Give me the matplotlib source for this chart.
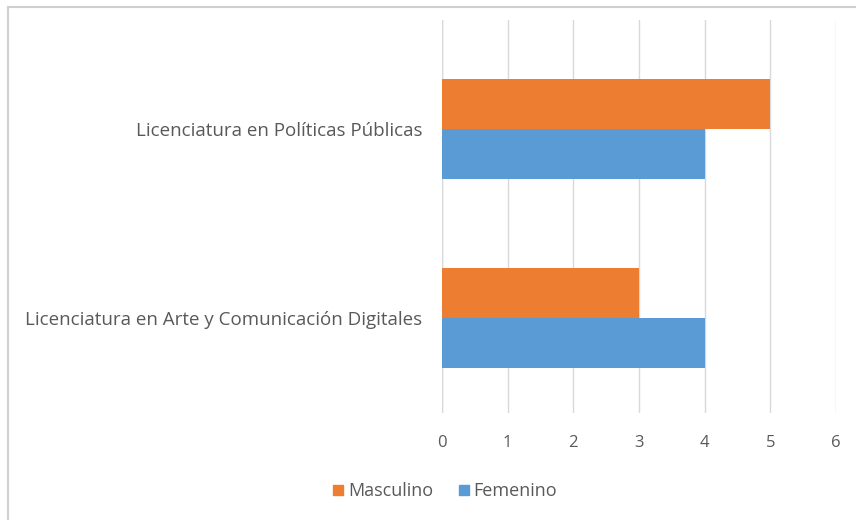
import numpy as np
import matplotlib.pyplot as plt
from matplotlib.lines import Line2D

categories = ['Licenciatura en Arte y Comunicación Digitales',
              'Licenciatura en Políticas Públicas']
masculino = [3, 5]
femenino = [4, 4]
series_names = ['Masculino', 'Femenino']
xticks = [0, 1, 2, 3, 4, 5, 6]

ORANGE = '#ED7D31'
BLUE = '#5B9BD5'
GRID = '#D9D9D9'
TEXT = '#595959'

plt.rcParams['font.family'] = ['Open Sans', 'DejaVu Sans']

fig = plt.figure(figsize=(8.56, 5.2), dpi=100)
ax = fig.add_axes([442/856, 1 - 413/520, (836 - 442)/856, (413 - 20)/520])

y = np.arange(len(categories))
h = 0.264
ax.barh(y + h/2, masculino, height=h, color=ORANGE, label=series_names[0], zorder=3)
ax.barh(y - h/2, femenino, height=h, color=BLUE, label=series_names[1], zorder=3)

ax.set_xlim(0, 6)
ax.set_ylim(-0.503, 1.577)
ax.set_xticks(xticks)
ax.set_xticklabels([str(t) for t in xticks])
ax.set_yticks(y)
ax.set_yticklabels(categories)
ax.xaxis.grid(True, color=GRID, lw=1, zorder=0)
for s in ax.spines.values():
    s.set_visible(False)
ax.axvline(0, color=GRID, lw=1, zorder=1)
ax.tick_params(axis='both', length=0, labelcolor=TEXT)
ax.tick_params(axis='x', pad=16, labelsize=12)
ax.tick_params(axis='y', pad=14, labelsize=13.5)

handles = [Line2D([], [], marker='s', ls='', color=ORANGE, markersize=7),
           Line2D([], [], marker='s', ls='', color=BLUE, markersize=7)]
fig.legend(handles, series_names, loc='center', bbox_to_anchor=(443/856, 1 - 491/520),
           ncol=2, frameon=False, fontsize=13, labelcolor=TEXT,
           handletextpad=0.05, columnspacing=1.2, handlelength=1.0)

# light frame on the left and top edge
fig.add_artist(Line2D([8/856, 8/856], [0, 1 - 7/520], color='#D0D0D0', lw=1.5))
fig.add_artist(Line2D([8/856, 1], [1 - 7/520, 1 - 7/520], color='#D0D0D0', lw=1.5))

fig.savefig('out.png', dpi=100)
